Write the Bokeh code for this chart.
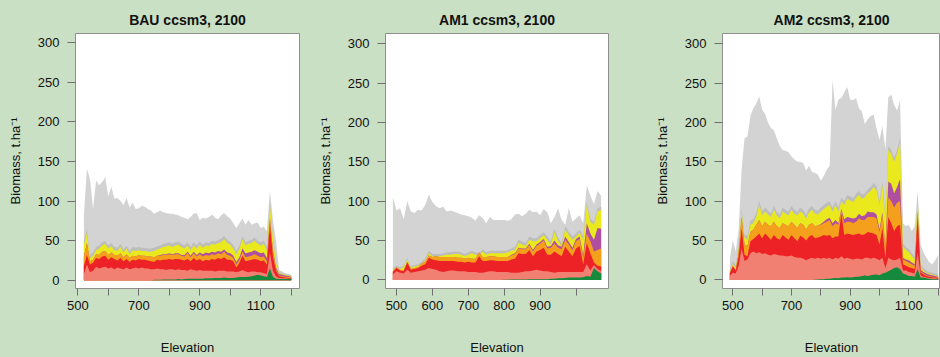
from bokeh.plotting import figure
from bokeh.layouts import row
from bokeh.models import ColumnDataSource, FixedTicker
from bokeh.embed import file_html
from bokeh.resources import INLINE

# ---------------- data (cumulative upper edge of each band, t/ha) ----------------
# Panel 1: BAU ccsm3, 2100
BAU_x = list(range(520, 1201, 10))
BAU_green = [0, 0, 0, 0, 0, 0, 0, 0, 0, 0,
             0, 0, 0, 0, 0, 0, 0, 0, 0, 0,
             0, 0, 0, 0.5, 0.5, 0.5, 1, 1, 1, 1,
             1, 1.5, 1, 1.5, 2, 2, 2, 2, 2, 2,
             2.5, 2.5, 2.5, 3, 3, 3, 3.5, 3, 3, 3,
             3.5, 4, 4, 4, 4.5, 5, 6, 7, 6, 5,
             4, 15, 4, 2, 1.5, 1.5, 1.5, 1.5, 1.5]
BAU_salmon = [8, 20, 10, 12, 17, 15, 16, 17, 15, 16,
              14, 16, 15, 14, 16, 14, 15, 16, 15, 16,
              15, 15, 14, 14, 15, 14, 14, 13, 14, 14,
              13, 14, 13, 13, 12, 14, 13, 12, 13, 12,
              12, 12, 12, 11, 12, 12, 12, 11, 11, 11,
              10, 11, 13, 11, 10, 11, 11, 10, 10, 9,
              8, 35, 12, 5, 3, 2.5, 2.5, 2, 2]
BAU_red = [18, 32, 20, 22, 28, 27, 30, 31, 26, 29,
           27, 25, 28, 24, 27, 23, 26, 25, 27, 26,
           26, 25, 24, 23, 26, 25, 26, 26, 27, 26,
           27, 27, 26, 25, 27, 24, 28, 25, 27, 24,
           26, 25, 27, 26, 28, 27, 29, 26, 26, 24,
           16, 22, 31, 24, 25, 26, 27, 26, 24, 25,
           20, 70, 30, 12, 5, 4, 3.5, 3, 3]
BAU_orange = [30, 47, 24, 26, 33, 32, 36, 37, 32, 35,
              32, 31, 34, 29, 33, 28, 31, 30, 32, 31,
              31, 30, 30, 29, 31, 31, 32, 32, 33, 32,
              33, 33, 31, 30, 34, 29, 34, 30, 33, 30,
              32, 31, 33, 32, 34, 33, 36, 32, 31, 28,
              20, 26, 36, 29, 30, 31, 33, 31, 29, 30,
              24, 76, 36, 14, 6, 5, 4.5, 4, 3.5]
BAU_purple = [30, 47, 24, 26, 33, 32, 36, 37, 32, 35,
              32, 31, 34, 29, 33, 28, 31, 30, 32, 31,
              31, 30, 30, 29, 31, 32, 33, 33, 34, 33,
              34, 34, 32, 32, 36, 31, 36, 32, 35, 33,
              35, 34, 36, 35, 37, 36, 39, 35, 34, 31,
              23, 29, 40, 34, 35, 36, 38, 36, 34, 35,
              28, 79, 38, 16, 8, 7, 6, 5.5, 4.5]
BAU_yellow = [45, 60, 28, 31, 38, 40, 44, 46, 40, 43,
              38, 37, 42, 35, 40, 33, 38, 37, 38, 37,
              37, 36, 36, 37, 39, 40, 42, 43, 44, 42,
              44, 45, 42, 40, 44, 38, 44, 40, 45, 41,
              44, 43, 46, 45, 47, 48, 52, 47, 45, 40,
              33, 40, 52, 44, 46, 47, 50, 46, 44, 46,
              38, 95, 52, 22, 9, 8, 7, 6, 5.5]
BAU_darkgray = [49, 64, 32, 35, 42, 44, 48, 50, 44, 47,
                42, 41, 46, 39, 44, 37, 42, 41, 42, 41,
                41, 40, 40, 41, 43, 44, 46, 47, 48, 46,
                48, 49, 46, 44, 48, 42, 48, 44, 49, 45,
                48, 47, 50, 49, 51, 52, 56, 51, 49, 44,
                37, 44, 56, 48, 50, 51, 54, 50, 48, 50,
                42, 100, 56, 25, 10, 9, 8, 7, 6.5]
BAU_gray = [82, 141, 128, 90, 126, 120, 124, 130, 106, 118,
            103, 104, 100, 95, 104, 92, 98, 90, 91, 94,
            93, 90, 88, 84, 86, 88, 86, 85, 84, 84,
            83, 82, 80, 79, 77, 80, 84, 85, 76, 79,
            78, 80, 83, 79, 77, 82, 85, 81, 78, 72,
            66, 72, 78, 70, 76, 70, 72, 73, 66, 68,
            62, 113, 76, 50, 13, 11, 9, 8, 7]

# Panel 2: AM1 ccsm3, 2100
AM1_x = list(range(490, 1071, 10))
AM1_green = [0, 0, 0, 0, 0, 0, 0, 0, 0, 0,
             0, 0, 0, 0, 0, 0, 0, 0, 0, 0,
             0, 0, 0, 0, 0, 0, 0, 0, 0, 0,
             0, 0.3, 0.3, 0.5, 0.5, 0.5, 0.5, 0.5, 0.8, 0.8,
             1, 1, 1, 1, 1.5, 1.5, 2, 2, 2.5, 3,
             3, 3, 3, 3.5, 5, 4, 15, 11, 8]
AM1_salmon = [7, 11, 9, 8, 13, 9, 10, 11, 12, 13,
              15, 14, 13, 11, 10, 11, 12, 12, 11, 11,
              11, 10, 10, 10, 9, 9, 10, 11, 11, 10,
              10, 10, 10, 9, 9, 9, 10, 11, 11, 12,
              13, 12, 11, 11, 10, 9, 10, 10, 10, 10,
              10, 10, 10, 10, 20, 12, 19, 14, 11]
AM1_red = [10, 15, 12, 11, 22, 13, 14, 15, 18, 20,
           28, 26, 25, 24, 24, 24, 24, 24, 23, 23,
           22, 23, 22, 22, 30, 24, 24, 25, 25, 24,
           24, 24, 24, 26, 27, 34, 33, 33, 38, 30,
           36, 38, 41, 32, 32, 36, 33, 30, 42, 36,
           30, 40, 43, 20, 47, 34, 22, 18, 17]
AM1_orange = [11, 16, 13, 12, 23, 14, 15, 16, 21, 23,
              31, 29, 30, 29, 29, 29, 29, 29, 28, 28,
              27, 28, 27, 27, 35, 29, 29, 30, 30, 29,
              29, 29, 29, 31, 33, 40, 39, 39, 44, 36,
              43, 46, 50, 40, 41, 46, 41, 39, 51, 45,
              38, 49, 52, 28, 59, 49, 36, 38, 40]
AM1_purple = [11, 16, 13, 12, 23, 14, 15, 16, 21, 23,
              31, 29, 30, 29, 29, 29, 29, 29, 28, 28,
              27, 28, 27, 27, 35, 29, 29, 30, 30, 29,
              29, 29, 29, 32, 34, 41, 40, 40, 46, 38,
              45, 48, 52, 42, 43, 50, 44, 42, 55, 48,
              41, 52, 55, 31, 72, 59, 51, 66, 65]
AM1_yellow = [13, 16, 14, 16, 26, 15, 17, 18, 21, 24,
              34, 30, 30, 30, 31, 32, 32, 33, 33, 32,
              30, 32, 34, 32, 31, 36, 32, 34, 34, 34,
              34, 34, 35, 37, 38, 47, 45, 43, 51, 49,
              49, 53, 57, 51, 45, 61, 50, 43, 64, 57,
              51, 55, 60, 51, 95, 74, 70, 87, 89]
AM1_darkgray = [15, 18, 16, 18, 28, 17, 19, 20, 23, 27,
                37, 33, 33, 33, 34, 35, 35, 36, 36, 35,
                33, 35, 37, 35, 34, 39, 35, 37, 37, 37,
                37, 37, 38, 40, 42, 51, 49, 47, 55, 53,
                53, 57, 61, 55, 49, 65, 54, 47, 68, 61,
                55, 59, 64, 55, 99, 78, 74, 91, 93]
AM1_gray = [105, 88, 91, 77, 100, 87, 85, 89, 88, 95,
            108, 99, 94, 91, 93, 87, 88, 87, 85, 83,
            82, 81, 79, 75, 82, 79, 72, 80, 76, 76,
            76, 76, 75, 77, 83, 84, 81, 84, 89, 86,
            87, 82, 90, 86, 72, 80, 91, 76, 70, 91,
            74, 78, 82, 72, 120, 107, 96, 113, 107]

# Panel 3: AM2 ccsm3, 2100
AM2_x = list(range(490, 1201, 10))
AM2_green = [0, 0, 0, 0, 0, 0, 0, 0, 0, 0,
             0, 0, 0, 0, 0, 0, 0, 0, 0, 0,
             0, 0, 0, 0, 0, 0, 0, 0, 0, 0.3,
             0.5, 0.8, 1, 1.5, 1.5, 2, 2.5, 2, 3, 3,
             3.5, 3, 3.5, 4, 4, 5, 5.5, 5, 6, 6.5,
             7, 6, 8, 9, 11, 13, 15, 16, 14, 8,
             7, 5, 5, 4, 14, 3, 3, 2, 1.5, 1,
             1, 1]
AM2_salmon = [5, 9, 8, 18, 40, 24, 26, 34, 36, 34,
              35, 33, 34, 32, 31, 33, 32, 31, 31, 30,
              30, 31, 29, 28, 28, 27, 25, 27, 28, 27,
              28, 27, 28, 27, 28, 26, 28, 27, 30, 27,
              28, 27, 26, 27, 27, 26, 28, 28, 27, 28,
              27, 25, 28, 15, 28, 26, 25, 26, 28, 12,
              12, 10, 9, 8, 35, 6, 4, 3, 2.5, 2,
              2, 1.5]
AM2_red = [8, 17, 12, 30, 66, 32, 30, 49, 52, 55,
           59, 53, 59, 55, 51, 57, 53, 51, 57, 54,
           51, 57, 53, 49, 56, 54, 50, 55, 57, 53,
           54, 55, 57, 56, 57, 53, 55, 55, 85, 57,
           59, 58, 57, 58, 59, 57, 58, 61, 60, 59,
           57, 45, 66, 28, 80, 72, 62, 68, 70, 20,
           18, 16, 15, 14, 80, 10, 7, 5, 4, 3.5,
           3, 2.5]
AM2_orange = [9, 18, 13, 35, 80, 45, 43, 61, 64, 70,
              76, 68, 74, 70, 68, 74, 68, 66, 72, 70,
              68, 74, 70, 66, 72, 70, 64, 70, 72, 68,
              69, 70, 72, 74, 76, 68, 72, 70, 88, 72,
              74, 74, 72, 74, 78, 76, 76, 80, 80, 80,
              78, 61, 82, 40, 105, 100, 92, 98, 100, 26,
              24, 22, 20, 18, 86, 11, 8, 6, 5, 4,
              3.5, 3]
AM2_purple = [9, 18, 13, 35, 80, 45, 43, 61, 64, 70,
              76, 68, 74, 70, 68, 74, 68, 66, 72, 70,
              68, 74, 70, 66, 72, 70, 64, 70, 72, 68,
              69, 71, 74, 77, 79, 72, 76, 72, 90, 77,
              80, 79, 78, 79, 84, 81, 82, 87, 86, 86,
              83, 64, 86, 42, 125, 122, 110, 118, 128, 28,
              26, 25, 22, 20, 88, 13, 10, 8, 7, 6,
              5, 4]
AM2_yellow = [11, 20, 15, 40, 87, 53, 51, 70, 72, 80,
              95, 82, 87, 83, 80, 89, 82, 78, 87, 84,
              82, 89, 84, 82, 87, 84, 78, 86, 89, 84,
              83, 87, 90, 93, 95, 87, 95, 87, 100, 95,
              103, 101, 99, 104, 108, 103, 105, 110, 113, 118,
              114, 95, 120, 78, 165, 160, 150, 160, 175, 42,
              38, 35, 30, 26, 105, 16, 12, 9, 8, 7,
              6, 5]
AM2_darkgray = [14, 24, 19, 44, 91, 58, 56, 75, 77, 85,
                100, 87, 92, 88, 85, 94, 87, 83, 92, 89,
                87, 94, 89, 87, 92, 89, 83, 91, 94, 89,
                88, 92, 95, 98, 100, 92, 100, 92, 105, 100,
                108, 106, 104, 109, 113, 108, 110, 115, 118, 123,
                119, 100, 125, 82, 170, 165, 155, 165, 180, 46,
                42, 39, 34, 30, 108, 20, 15, 12, 10, 9,
                8, 7]
AM2_gray = [28, 50, 36, 65, 140, 180, 182, 208, 218, 224,
            233, 216, 211, 200, 193, 190, 180, 170, 165, 164,
            162, 157, 153, 150, 150, 148, 139, 145, 137, 136,
            134, 126, 132, 140, 145, 254, 216, 229, 231, 238,
            245, 229, 228, 231, 218, 214, 198, 204, 208, 210,
            192, 178, 195, 166, 232, 235, 222, 215, 228, 72,
            68, 70, 62, 68, 113, 45, 35, 28, 22, 20,
            25, 32]

Y_TICKS = [0, 50, 100, 150, 200, 250, 300]
BAU_xticks = [500, 600, 700, 800, 900, 1000, 1100, 1200]
BAU_xlabels = [500, 700, 900, 1100]
AM1_xticks = [500, 600, 700, 800, 900, 1000]
AM1_xlabels = [500, 600, 700, 800, 900]
AM2_xticks = [500, 600, 700, 800, 900, 1000, 1100, 1200]
AM2_xlabels = [500, 700, 900, 1100]

# ---------------- styling ----------------
BG = "#c9e0c4"
COLORS = {
    "gray": "#d3d3d3",
    "darkgray": "#bdbdbd",
    "yellow": "#e9e91d",
    "purple": "#b04fa0",
    "orange": "#f5a01c",
    "red": "#ec2227",
    "salmon": "#f28072",
    "green": "#158a3d",
}
FONT = "Liberation Sans"
H = 357


def make_panel(title, x, layers, x_range, y_range, xticks, xlabels, width,
               bl, br, bb, bt=33, title_offset=0):
    p = figure(width=width, height=H, x_range=x_range, y_range=y_range,
               output_backend="svg", toolbar_location=None,
               min_border_left=bl, min_border_right=br,
               min_border_bottom=bb, min_border_top=bt)
    p.border_fill_color = BG
    p.background_fill_color = "white"
    p.outline_line_color = "#8f8f8f"
    p.outline_line_width = 1
    p.grid.visible = False

    data = {"x": x}
    data.update(layers)
    src = ColumnDataSource(data)
    # paint from the top band down so each band shows between its neighbours
    for name in ["gray", "darkgray", "yellow", "purple", "orange", "red", "salmon", "green"]:
        p.varea(x="x", y1=0, y2=name, source=src, fill_color=COLORS[name])

    p.title.text = title
    p.title.align = "center"
    p.title.text_font = FONT
    p.title.text_font_size = "14px"
    p.title.text_font_style = "bold"
    p.title.text_color = "#111111"
    p.title.standoff = 11
    p.title.offset = title_offset

    xa = p.xaxis[0]
    xa.ticker = FixedTicker(ticks=xticks)
    xa.major_label_overrides = {t: (str(t) if t in xlabels else "") for t in xticks}
    xa.axis_label = "Elevation"
    ya = p.yaxis[0]
    ya.ticker = FixedTicker(ticks=Y_TICKS)
    ya.axis_label = "Biomass, t.ha\u207b\u00b9"
    for ax, tick_len in ((xa, 7), (ya, 8)):
        ax.axis_line_color = None
        ax.major_tick_in = 0
        ax.major_tick_out = tick_len
        ax.minor_tick_in = 0
        ax.minor_tick_out = 0
        ax.major_tick_line_color = "#6f6f6f"
        ax.major_label_text_font = FONT
        ax.major_label_text_font_size = "13px"
        ax.major_label_text_color = "#111111"
        ax.axis_label_text_font = FONT
        ax.axis_label_text_font_size = "13px"
        ax.axis_label_text_font_style = "normal"
        ax.axis_label_text_color = "#111111"
    xa.major_label_standoff = 5
    xa.axis_label_standoff = 27
    ya.major_label_standoff = 8
    ya.axis_label_standoff = 12
    return p


p1 = make_panel("BAU ccsm3, 2100", BAU_x,
                {"green": BAU_green, "salmon": BAU_salmon, "red": BAU_red,
                 "orange": BAU_orange, "purple": BAU_purple, "yellow": BAU_yellow,
                 "darkgray": BAU_darkgray, "gray": BAU_gray},
                (492.5, 1227.0), (-10.4, 311.7), BAU_xticks, BAU_xlabels,
                width=312, bl=75, br=13, bb=68)
p2 = make_panel("AM1 ccsm3, 2100", AM1_x,
                {"green": AM1_green, "salmon": AM1_salmon, "red": AM1_red,
                 "orange": AM1_orange, "purple": AM1_purple, "yellow": AM1_yellow,
                 "darkgray": AM1_darkgray, "gray": AM1_gray},
                (469.4, 1090.5), (-10.9, 312.9), AM1_xticks, AM1_xlabels,
                width=333, bl=73, br=37, bb=66)
p3 = make_panel("AM2 ccsm3, 2100", AM2_x,
                {"green": AM2_green, "salmon": AM2_salmon, "red": AM2_red,
                 "orange": AM2_orange, "purple": AM2_purple, "yellow": AM2_yellow,
                 "darkgray": AM2_darkgray, "gray": AM2_gray},
                (464.9, 1207.9), (-10.9, 312.9), AM2_xticks, AM2_xlabels,
                width=295, bl=77, br=0, bb=66, title_offset=2)

layout = row(p1, p2, p3)
layout.spacing = 0
layout.styles = {"background-color": BG}

open("out.html", "w").write(file_html(layout, INLINE))
